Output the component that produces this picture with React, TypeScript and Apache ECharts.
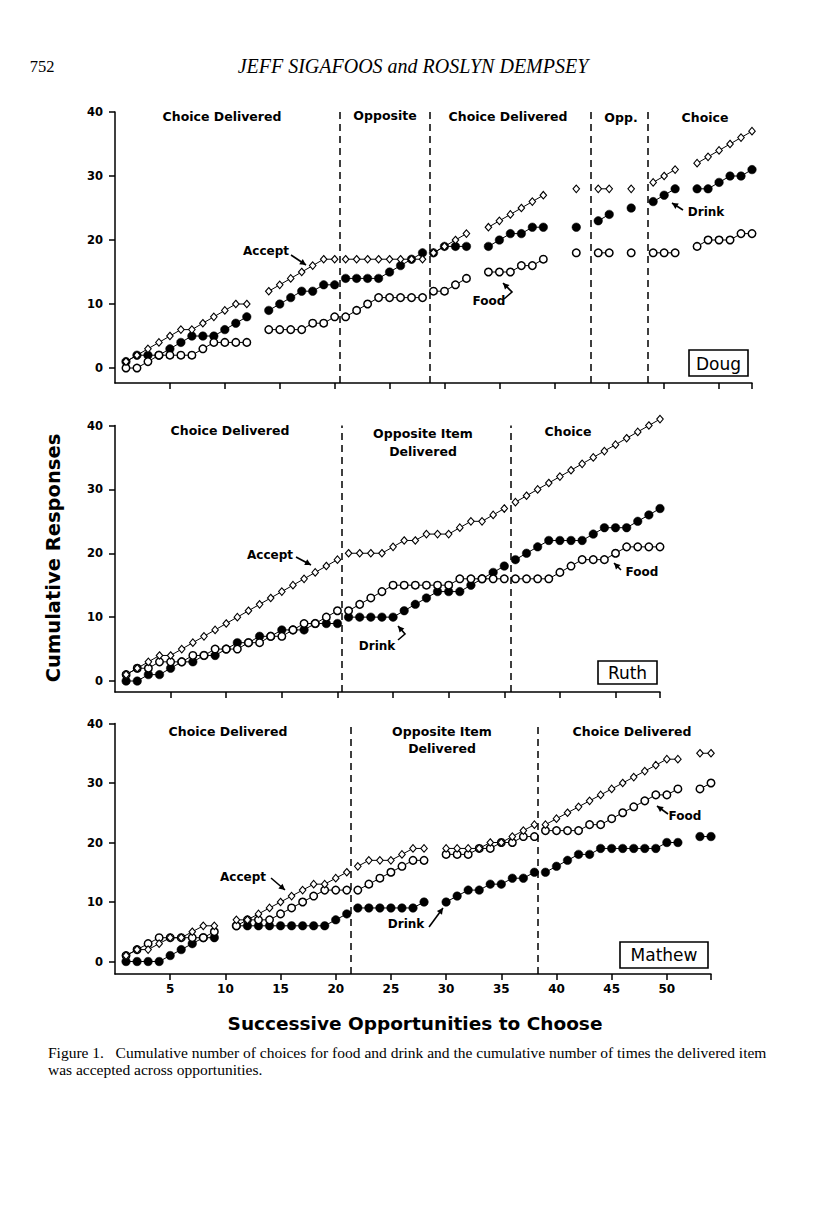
import React, { useEffect, useRef } from "react";
import * as echarts from "echarts";

// ---------- DATA (index i = opportunity i+1; null = no data) ----------
const dougAccept = [1,2,3,4,5,6,6,7,8,9,10,10, null, 12,13,14,15,16,17,17, 17,17,17,17,17,17,17,17, 18,19,20,21, null, 22,23,24,25,26,27, null,null, 28, null, 28,28, null, 28, null, 29,30,31, null, 32,33,34,35,36,37];
const dougDrink  = [1,2,2,2,3,4,5,5,5,6,7,8, null, 9,10,11,12,12,13,13, 14,14,14,14,15,16,17,18, 18,19,19,19, null, 19,20,21,21,22,22, null,null, 22, null, 23,24, null, 25, null, 26,27,28, null, 28,28,29,30,30,31];
const dougFood   = [0,0,1,2,2,2,2,3,4,4,4,4, null, 6,6,6,6,7,7,8, 8,9,10,11,11,11,11,11, 12,12,13,14, null, 15,15,15,16,16,17, null,null, 18, null, 18,18, null, 18, null, 18,18,18, null, 19,20,20,20,21,21];
const dougPhases = [20.5, 28.7, 43.3, 48.5];

const ruthAccept = [1,2,3,4,4,5,6,7,8,9,10,11,12,13,14,15,16,17,18,19, 20,20,20,20,21,22,22,23,23,23,24,25,25,26,27, 28,29,30,31,32,33,34,35,36,37,38,39,40,41];
const ruthFood   = [1,2,2,3,3,3,4,4,5,5,5,6,6,7,7,8,9,9,10,11, 11,12,13,14,15,15,15,15,15,15,16,16,16,16,16, 16,16,16,16,17,18,19,19,19,20,21,21,21,21];
const ruthDrink  = [0,0,1,1,2,3,3,4,4,5,6,6,7,7,8,8,8,9,9,9, 10,10,10,10,10,11,12,13,14,14,14,15,16,17,18, 19,20,21,22,22,22,22,23,24,24,24,25,26,27];
const ruthPhases = [20.4, 35.6];

const mathewAccept = [1,2,2,3,4,4,5,6,6, null, 7,7,8,9,10,11,12,13,13,14,15, 16,17,17,17,18,19,19, null, 19,19,19,19,20,20,21,22,23, 23,24,25,26,27,28,29,30,31,32,33,34,34, null, 35,35];
const mathewFood   = [1,2,3,4,4,4,4,4,5, null, 6,7,7,7,8,9,10,11,12,12,12, 12,13,14,15,16,17,17, null, 18,18,18,19,19,20,20,21,21, 22,22,22,22,23,23,24,25,26,27,28,28,29, null, 29,30];
const mathewDrink  = [0,0,0,0,1,2,3,4,4, null, 6,6,6,6,6,6,6,6,6,7,8, 9,9,9,9,9,9,10, null, 10,11,12,12,13,13,14,14,15, 15,16,17,18,18,19,19,19,19,19,19,20,20, null, 21,21];
const mathewPhases = [21.4, 38.3];

const yTicks = [0, 10, 20, 30, 40];
const xLabelTicks = [5, 10, 15, 20, 25, 30, 35, 40, 45, 50];

const FONT = '"DejaVu Sans", sans-serif';
const SERIF = '"Liberation Serif", "DejaVu Serif", serif';

function buildData(values: (number | null)[], phases: number[]) {
  const pts: any[] = [];
  values.forEach((v, i) => {
    const s = i + 1;
    if (i > 0 && phases.some((p) => p > s - 1 && p < s)) pts.push([s - 0.5, "-"]);
    pts.push([s, v === null ? "-" : v]);
  });
  return pts;
}

function arrow(pts: number[][]) {
  const n = pts.length;
  const [x2, y2] = pts[n - 1];
  const [x1, y1] = pts[n - 2];
  const dx = x2 - x1, dy = y2 - y1;
  const len = Math.hypot(dx, dy);
  const ux = dx / len, uy = dy / len;
  const L = 6, W = 3.2;
  const head = [
    [x2, y2],
    [x2 - ux * L - uy * W, y2 - uy * L + ux * W],
    [x2 - ux * L + uy * W, y2 - uy * L - ux * W],
  ];
  return [
    { type: "polyline", shape: { points: pts }, style: { stroke: "#000", lineWidth: 1.6, fill: null } },
    { type: "polygon", shape: { points: head }, style: { fill: "#000" } },
  ];
}

function txt(text: string, x: number, y: number, size: number, opts: any = {}) {
  return {
    type: "text",
    x,
    y,
    rotation: opts.rotation || 0,
    style: {
      text,
      fill: "#000",
      font: `${opts.style || "normal"} ${opts.weight || "bold"} ${size}px ${opts.family || FONT}`,
      textAlign: opts.align || "center",
      textVerticalAlign: "middle",
    },
  };
}

function box(x: number, y: number, w: number, h: number) {
  return { type: "rect", shape: { x, y, width: w, height: h }, style: { fill: "#fff", stroke: "#000", lineWidth: 1.6 }, z: 10 };
}

export default function App() {
  const ref = useRef<HTMLDivElement>(null);
  useEffect(() => {
    if (!ref.current) return;
    const chart = echarts.init(ref.current, undefined, { renderer: "svg" });

    const panels = [
      { left: 115, top: 112, width: 637, height: 271, xmax: 58, ymin: -2.34, accept: dougAccept, food: dougFood, drink: dougDrink, phases: dougPhases, labels: false },
      { left: 115, top: 425.5, width: 545, height: 266.5, xmax: 49, ymin: -1.72, accept: ruthAccept, food: ruthFood, drink: ruthDrink, phases: ruthPhases, labels: false },
      { left: 115, top: 723.5, width: 596, height: 250.5, xmax: 54, ymin: -2.1, accept: mathewAccept, food: mathewFood, drink: mathewDrink, phases: mathewPhases, labels: true },
    ];

    const grid: any[] = [];
    const xAxis: any[] = [];
    const yAxis: any[] = [];
    const series: any[] = [];

    panels.forEach((p, gi) => {
      grid.push({ left: p.left, top: p.top, width: p.width, height: p.height, containLabel: false, outerBoundsMode: "none" });
      const xt: number[] = [];
      for (let v = 5; v < p.xmax - 1; v += 5) xt.push(v);
      xt.push(p.xmax);
      xAxis.push({
        type: "value",
        gridIndex: gi,
        min: 0,
        max: p.xmax,
        axisLine: { show: true, onZero: false, lineStyle: { color: "#000", width: 1.5 } },
        axisTick: { show: true, customValues: xt, length: 6, lineStyle: { color: "#000", width: 1.5 } },
        axisLabel: p.labels
          ? { show: true, customValues: xLabelTicks, color: "#000", fontFamily: FONT, fontWeight: "bold", fontSize: 12, margin: 9 }
          : { show: false },
        splitLine: { show: false },
      });
      yAxis.push({
        type: "value",
        gridIndex: gi,
        min: p.ymin,
        max: 40,
        axisLine: { show: true, onZero: false, lineStyle: { color: "#000", width: 1.5 } },
        axisTick: { show: true, customValues: yTicks, length: 6, lineStyle: { color: "#000", width: 1.5 } },
        axisLabel: { show: true, customValues: yTicks, color: "#000", fontFamily: FONT, fontWeight: "bold", fontSize: 11.5, margin: 12 },
        splitLine: { show: false },
      });
      const base = { type: "line", xAxisIndex: gi, yAxisIndex: gi, clip: false, showAllSymbol: true, connectNulls: false, silent: true, lineStyle: { color: "#000", width: 1 } };
      series.push({
        ...base,
        name: "Drink",
        data: buildData(p.drink, p.phases),
        symbol: "circle",
        symbolSize: 8.5,
        itemStyle: { color: "#000", borderColor: "#000", borderWidth: 0.5 },
        z: 2,
      });
      series.push({
        ...base,
        name: "Food",
        data: buildData(p.food, p.phases),
        symbol: "circle",
        symbolSize: 7.5,
        itemStyle: { color: "#fff", borderColor: "#000", borderWidth: 1.5 },
        z: 3,
      });
      series.push({
        ...base,
        name: "Accept",
        data: buildData(p.accept, p.phases),
        symbol: "diamond",
        symbolSize: [6.5, 7.5],
        itemStyle: { color: "#fff", borderColor: "#000", borderWidth: 1.1 },
        z: 4,
        markLine: {
          silent: true,
          symbol: ["none", "none"],
          label: { show: false },
          lineStyle: { color: "#000", type: [7, 5], width: 1.5 },
          data: p.phases.map((v) => ({ xAxis: v })),
        },
      });
    });

    const graphic: any[] = [
      // page header
      txt("752", 42, 66, 16.5, { family: SERIF, weight: "normal" }),
      txt("JEFF SIGAFOOS and ROSLYN DEMPSEY", 413, 66, 20, { family: SERIF, weight: "normal", style: "italic" }),
      // Doug phase titles
      txt("Choice Delivered", 222, 116, 12.5),
      txt("Opposite", 385, 115, 12.5),
      txt("Choice Delivered", 508, 116, 12.5),
      txt("Opp.", 621, 117, 12.5),
      txt("Choice", 705, 117, 12.5),
      // Ruth phase titles
      txt("Choice Delivered", 230, 430, 12.5),
      txt("Opposite Item", 423, 433, 12.5),
      txt("Delivered", 423, 451, 12.5),
      txt("Choice", 568, 431, 12.5),
      // Mathew phase titles
      txt("Choice Delivered", 228, 731, 12.5),
      txt("Opposite Item", 442, 731, 12.5),
      txt("Delivered", 442, 748, 12.5),
      txt("Choice Delivered", 632, 731, 12.5),
      // annotations
      txt("Accept", 266, 251, 12),
      ...arrow([[291, 255], [306, 265]]),
      txt("Food", 489, 301, 12),
      ...arrow([[504, 299], [512, 292], [503, 283]]),
      txt("Drink", 706, 212, 12),
      ...arrow([[683, 210], [672, 203]]),
      txt("Accept", 270, 555, 12),
      ...arrow([[296, 557], [311, 565]]),
      txt("Drink", 377, 646, 12),
      ...arrow([[398, 640], [405, 634], [398, 626]]),
      txt("Food", 642, 572, 12),
      ...arrow([[621, 570], [614, 563]]),
      txt("Accept", 243, 877, 12),
      ...arrow([[271, 878], [285, 890]]),
      txt("Drink", 406, 924, 12),
      ...arrow([[429, 927], [443, 908]]),
      txt("Food", 685, 816, 12),
      ...arrow([[668, 814], [657, 806]]),
      // subject boxes
      box(689, 350, 59, 26),
      { ...txt("Doug", 718.5, 363.5, 17, { weight: "normal" }), z: 11 },
      box(598, 661, 59, 23),
      { ...txt("Ruth", 627.5, 673, 17, { weight: "normal" }), z: 11 },
      box(620, 942, 88, 26),
      { ...txt("Mathew", 664, 955, 17, { weight: "normal" }), z: 11 },
      // axis titles
      txt("Cumulative Responses", 53, 558, 19.5, { rotation: Math.PI / 2 }),
      txt("Successive Opportunities to Choose", 415, 1023, 18.5),
      // caption
      txt("Figure 1.   Cumulative number of choices for food and drink and the cumulative number of times the delivered item", 48, 1052, 15.5, { family: SERIF, weight: "normal", align: "left" }),
      txt("was accepted across opportunities.", 48, 1069, 15.5, { family: SERIF, weight: "normal", align: "left" }),
    ];

    chart.setOption({
      animation: false,
      backgroundColor: "#fff",
      grid,
      xAxis,
      yAxis,
      series,
      graphic,
    });
    return () => chart.dispose();
  }, []);

  return (
    <div
      ref={ref}
      style={{ position: "absolute", left: 0, top: 0, width: 816, height: 1219, background: "#fff" }}
    />
  );
}
